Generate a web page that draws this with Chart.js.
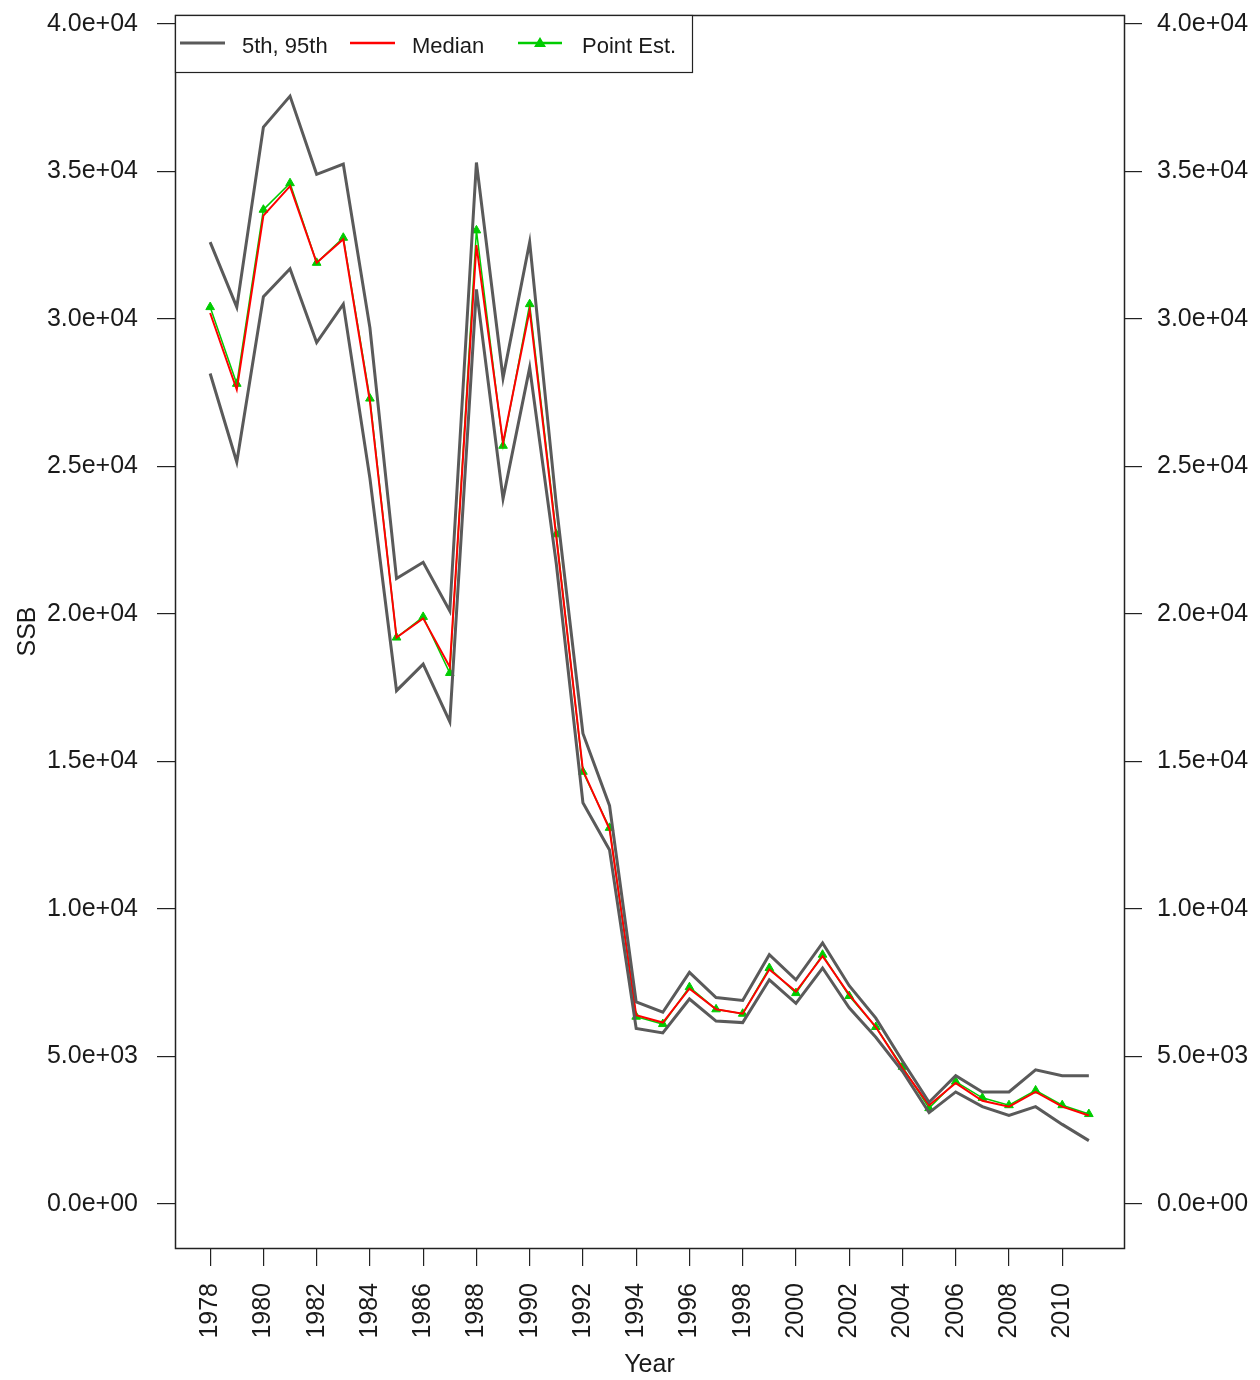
<!DOCTYPE html>
<html>
<head>
<meta charset="utf-8">
<script src="https://cdn.jsdelivr.net/npm/chart.js@4.4.1/dist/chart.umd.min.js"></script>
<style>
  html, body { margin: 0; padding: 0; background: #fff; }
  #wrap { width: 1260px; height: 1380px; }
</style>
</head>
<body>
<div id="wrap"><canvas id="myChart" width="1260" height="1380"></canvas></div>
<script>
const years = [1978, 1979, 1980, 1981, 1982, 1983, 1984, 1985, 1986, 1987, 1988, 1989,
    1990, 1991, 1992, 1993, 1994, 1995, 1996, 1997, 1998, 1999, 2000, 2001,
    2002, 2003, 2004, 2005, 2006, 2007, 2008, 2009, 2010, 2011]

const upper95 = [32600, 30400, 36500, 37550, 34900, 35250, 29700, 21200, 21750, 20100, 35300, 28000,
    32600, 23700, 15950, 13500, 6850, 6500, 7850, 7000, 6900, 8450, 7600, 8850,
    7400, 6300, 4850, 3450, 4350, 3800, 3800, 4550, 4350, 4350]

const lower5 = [28150, 25150, 30750, 31700, 29200, 30500, 24600, 17400, 18300, 16350, 31000, 23900,
    28350, 21700, 13600, 12000, 5950, 5800, 6950, 6200, 6150, 7600, 6800, 8000,
    6650, 5650, 4500, 3100, 3800, 3300, 3000, 3300, 2700, 2150]

const median = [30200, 27600, 33500, 34500, 31900, 32700, 27200, 19200, 19850, 18200, 32500, 25800,
    30300, 22600, 14700, 12700, 6400, 6150, 7300, 6600, 6450, 7950, 7200, 8400,
    7100, 6000, 4600, 3350, 4100, 3500, 3300, 3800, 3300, 3000]

const pointEst = [30400, 27800, 33700, 34600, 31900, 32750, 27300, 19200, 19900, 18000, 33000, 25700,
    30500, 22700, 14650, 12750, 6350, 6100, 7350, 6600, 6450, 8000, 7150, 8450,
    7050, 6000, 4650, 3250, 4150, 3600, 3350, 3850, 3350, 3050]

const xTicks = [1978, 1980, 1982, 1984, 1986, 1988, 1990, 1992, 1994, 1996, 1998, 2000,
    2002, 2004, 2006, 2008, 2010]
const yTicks = [0, 5000, 10000, 15000, 20000, 25000, 30000, 35000, 40000]
const yTickLabels = ["0.0e+00", "5.0e+03", "1.0e+04", "1.5e+04", "2.0e+04", "2.5e+04",
    "3.0e+04", "3.5e+04", "4.0e+04"]

const legendLabels = ["5th, 95th", "Median", "Point Est."]

const GRAY = '#5a5a5a'
const RED = '#ff0000'
const GREEN = '#00cc00'
const TXT = '#1a1a1a'
const FONT = "'Liberation Sans', Arial, sans-serif"

function pts(arr) {
    return arr.map((v, i) => ({ x: years[i], y: v }))
}

// drop the extra room chart.js keeps for half tick labels
function noPad(s) {
    s.paddingTop = 0
    s.paddingBottom = 0
    s.paddingLeft = 0
    s.paddingRight = 0
}

const ctx = document.getElementById('myChart')

const frameAndLegend = {
    id: 'frameAndLegend',
    afterDraw(chart) {
        const c = chart.ctx
        const a = chart.chartArea
        c.save()
        // plot box
        c.strokeStyle = '#222'
        c.lineWidth = 1.5
        c.strokeRect(Math.round(a.left) + 0.5, Math.round(a.top) + 0.5,
            Math.round(a.right - a.left), Math.round(a.bottom - a.top))

        // legend box in top left corner
        const lx = Math.round(a.left) + 0.5
        const ly = Math.round(a.top) + 0.5
        c.fillStyle = '#fff'
        c.fillRect(lx, ly, 517, 57)
        c.strokeStyle = '#222'
        c.lineWidth = 1.2
        c.strokeRect(lx, ly, 517, 57)

        const cy = a.top + 28
        c.font = "22px " + FONT
        c.fillStyle = TXT
        c.textBaseline = 'middle'
        c.textAlign = 'left'

        c.lineWidth = 3
        c.strokeStyle = GRAY
        c.beginPath(); c.moveTo(a.left + 5, cy); c.lineTo(a.left + 50, cy); c.stroke()
        c.fillText(legendLabels[0], a.left + 67, cy + 4)

        c.lineWidth = 2.5
        c.strokeStyle = RED
        c.beginPath(); c.moveTo(a.left + 175, cy); c.lineTo(a.left + 220, cy); c.stroke()
        c.fillText(legendLabels[1], a.left + 237, cy + 4)

        c.lineWidth = 2.5
        c.strokeStyle = GREEN
        c.beginPath(); c.moveTo(a.left + 343, cy); c.lineTo(a.left + 387, cy); c.stroke()
        c.fillStyle = GREEN
        c.beginPath()
        c.moveTo(a.left + 365, cy - 6)
        c.lineTo(a.left + 371, cy + 4)
        c.lineTo(a.left + 359, cy + 4)
        c.closePath(); c.fill()
        c.fillStyle = TXT
        c.fillText(legendLabels[2], a.left + 407, cy + 4)
        c.restore()
    }
}

new Chart(ctx, {
    type: 'line',
    data: {
        datasets: [
            {
                label: legendLabels[0],
                data: pts(upper95),
                borderColor: GRAY,
                borderWidth: 3,
                pointRadius: 0,
                tension: 0
            },
            {
                label: '95th',
                data: pts(lower5),
                borderColor: GRAY,
                borderWidth: 3,
                pointRadius: 0,
                tension: 0
            },
            {
                label: legendLabels[1],
                data: pts(median),
                borderColor: RED,
                borderWidth: 2,
                pointRadius: 0,
                tension: 0
            },
            {
                label: legendLabels[2],
                data: pts(pointEst),
                borderColor: GREEN,
                backgroundColor: GREEN,
                borderWidth: 1.5,
                pointStyle: 'triangle',
                pointRadius: 5,
                pointBorderWidth: 1,
                tension: 0
            }
        ]
    },
    options: {
        responsive: false,
        animation: false,
        devicePixelRatio: 1,
        layout: { padding: { top: 15, left: 0, right: 0, bottom: 0 } },
        plugins: {
            legend: { display: false },
            tooltip: { enabled: false }
        },
        scales: {
            x: {
                type: 'linear',
                position: 'bottom',
                min: 1976.68,
                max: 2012.32,
                afterBuildTicks: (s) => { s.ticks = xTicks.map(v => ({ value: v })) },
                afterFit: (s) => { s.height = 132; noPad(s) },
                ticks: {
                    autoSkip: false,
                    minRotation: 90,
                    maxRotation: 90,
                    padding: 17,
                    color: TXT,
                    font: { family: FONT, size: 25 },
                    callback: (v) => String(v)
                },
                grid: { drawOnChartArea: false, tickLength: 18, color: '#222', lineWidth: 1.2 },
                border: { display: false },
                title: {
                    display: true,
                    text: 'Year',
                    color: TXT,
                    font: { family: FONT, size: 25 },
                    padding: 0
                }
            },
            y: {
                type: 'linear',
                position: 'left',
                min: -1490,
                max: 40300,
                afterBuildTicks: (s) => { s.ticks = yTicks.map(v => ({ value: v })) },
                afterFit: (s) => { s.width = 175; noPad(s) },
                ticks: {
                    autoSkip: false,
                    padding: 19,
                    color: TXT,
                    font: { family: FONT, size: 25 },
                    callback: (v, i) => yTickLabels[i]
                },
                grid: { drawOnChartArea: false, tickLength: 18, color: '#222', lineWidth: 1.2 },
                border: { display: false },
                title: {
                    display: true,
                    text: 'SSB',
                    color: TXT,
                    font: { family: FONT, size: 25 },
                    padding: { top: 13, bottom: 0 }
                }
            },
            y2: {
                type: 'linear',
                position: 'right',
                min: -1490,
                max: 40300,
                afterBuildTicks: (s) => { s.ticks = yTicks.map(v => ({ value: v })) },
                afterFit: (s) => { s.width = 136; noPad(s) },
                ticks: {
                    autoSkip: false,
                    padding: 15,
                    color: TXT,
                    font: { family: FONT, size: 25 },
                    callback: (v, i) => yTickLabels[i]
                },
                grid: { drawOnChartArea: false, tickLength: 18, color: '#222', lineWidth: 1.2 },
                border: { display: false }
            }
        }
    },
    plugins: [frameAndLegend]
})
</script>
</body>
</html>
